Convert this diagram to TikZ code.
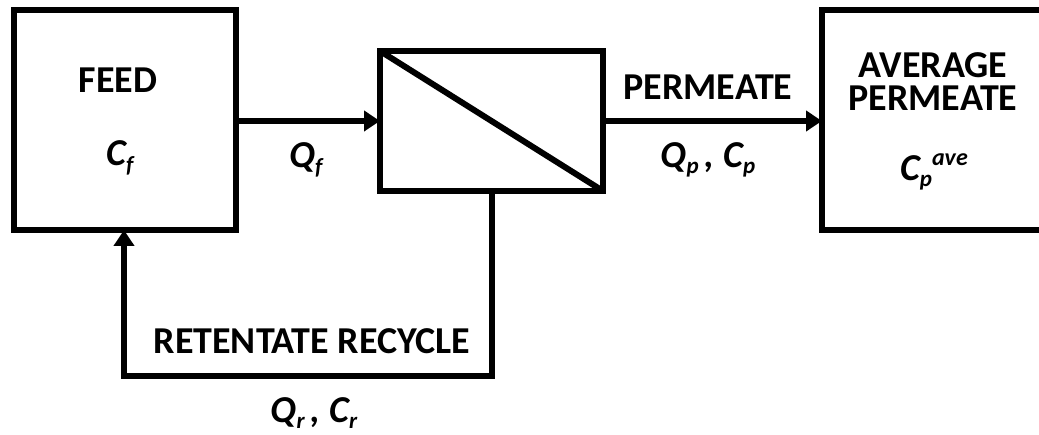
\documentclass[tikz,border=0pt]{standalone}
\usepackage{fontspec}
\setmainfont{Carlito}
\usetikzlibrary{arrows.meta}
\newcommand\lowidx[1]{\raisebox{-0.17em}{\fontsize{23}{23}\selectfont #1}}
\newcommand\highidx[1]{\raisebox{0.4em}{\fontsize{24}{24}\selectfont #1}}
\begin{document}
\begin{tikzpicture}[x=1pt,y=-1pt,
  every node/.style={font=\fontsize{38}{40}\selectfont\bfseries, inner sep=0pt, outer sep=0pt},
  unit/.style={draw, line width=6pt, minimum width=#1},
  flow/.style={line width=6pt, -{Triangle[length=16pt,width=20pt]}},
  lbl/.style={align=center}]
  \useasboundingbox (0,0) rectangle (1039,435);

  % process units
  \node[unit=222pt, minimum height=220pt] (feed) at (125,120) {};
  \node[unit=223pt, minimum height=140pt] (memb) at (491.5,121) {};
  \node[unit=228pt, minimum height=220pt] (avg) at (936,120) {};
  \draw[line width=6pt] (memb.north west) -- (memb.south east);

  % unit labels
  \node[lbl] (feedname) at (118,80) {FEED};
  \node[lbl] (feedconc) at (120,158) {\itshape C\lowidx{f}};
  \node[lbl, anchor=base] (avgname1) at (933,78) {AVERAGE};
  \node[lbl, anchor=base] (avgname2) at (933,111) {PERMEATE};
  \node[lbl] (avgconc) at (934,172) {\itshape C\lowidx{p}\highidx{ave}};

  % streams
  \draw[flow] (feed.east |- 0,121) -- (memb.west);
  \draw[flow] (memb.east) -- (memb.east -| avg.west);
  \draw[flow] (memb.south) -- (memb.south |- 0,376) -| (feed.south -| 124,0);

  % stream labels
  \node[lbl] (qf) at (306,160) {\itshape Q\lowidx{f}};
  \node[lbl] (permname) at (708,87) {PERMEATE};
  \node[lbl] (qp) at (708,160) {\itshape Q\lowidx{p}\,, C\lowidx{p}};
  \node[lbl] (recname) at (312,341) {RETENTATE RECYCLE};
  \node[lbl] (qr) at (314,413) {\itshape Q\lowidx{r}\,, C\lowidx{r}};
\end{tikzpicture}
\end{document}
